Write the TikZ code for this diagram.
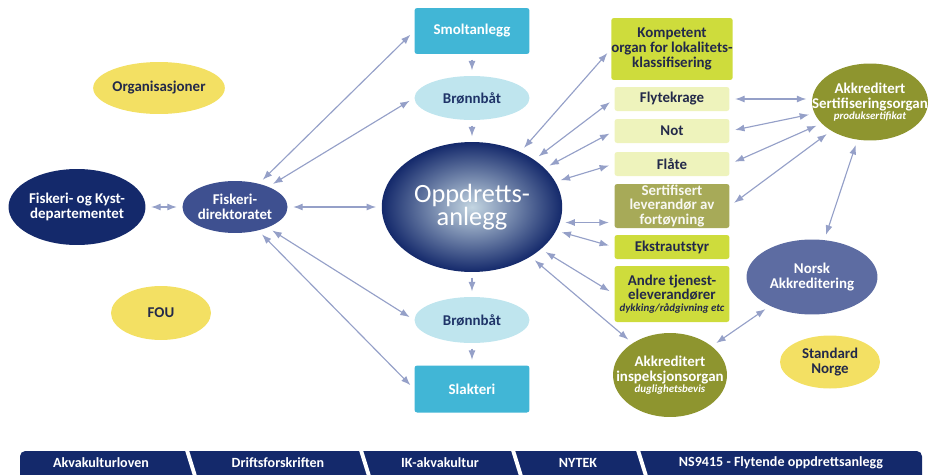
\documentclass[tikz,border=0pt]{standalone}
\usepackage{fontspec}
\setmainfont{Carlito}
\usepackage{xcolor}
\usetikzlibrary{shapes.geometric,arrows.meta}

\definecolor{navydark}{HTML}{14296B}
\definecolor{navymid}{HTML}{3E5090}
\definecolor{navylight}{HTML}{5D6CA2}
\definecolor{sunyellow}{HTML}{F3E063}
\definecolor{smoltblue}{HTML}{41B6D6}
\definecolor{paleblue}{HTML}{BFE5EE}
\definecolor{limegreen}{HTML}{CEDC3C}
\definecolor{palelime}{HTML}{EEF3BC}
\definecolor{olivelight}{HTML}{A7AA58}
\definecolor{olivedark}{HTML}{8E952F}
\definecolor{linkgray}{HTML}{95A0C8}
\definecolor{textdark}{HTML}{23294A}
\definecolor{textnavy}{HTML}{1F3468}
\definecolor{glow}{HTML}{C4D6E2}

\newcommand{\smallnote}{\fontsize{6.2}{6.4}\selectfont\bfseries\itshape}

\begin{document}
\begin{tikzpicture}[
        x=0.02cm, y=-0.02cm,
        lbl/.style={font=\fontsize{8.5}{8.3}\selectfont\bfseries, align=center, inner sep=0pt},
        blob/.style={ellipse, lbl},
        box/.style={rectangle, lbl, rounded corners=1.5pt, minimum width=2.3cm},
        link/.style={linkgray, line width=0.65pt,
            {Latex[length=0.19cm,width=0.14cm]}-{Latex[length=0.19cm,width=0.14cm]},
            shorten <=3pt, shorten >=3pt},
        flow/.style={linkgray, line width=0.65pt,
            -{Latex[length=0.19cm,width=0.14cm]}, shorten <=3pt, shorten >=3pt},
        lawlbl/.style={font=\fontsize{8}{8}\selectfont\bfseries, text=white, inner sep=0pt},
    ]
    \useasboundingbox (0,0) rectangle (934,474);

    \node[blob, fill=sunyellow, text=textdark, minimum width=1.96cm, minimum height=1.04cm] (orga) at (159,88) {Organisasjoner};
    \node[blob, fill=navydark, text=white, minimum width=2.74cm, minimum height=1.52cm] (fkd) at (77,207) {Fiskeri- og Kyst-\\departementet};
    \node[blob, fill=navymid, text=white, minimum width=2.0cm, minimum height=1.04cm] (fdir) at (235,207) {Fiskeri-\\direktoratet};
    \node[blob, fill=sunyellow, text=textdark, minimum width=2.0cm, minimum height=1.08cm] (fou) at (161,313) {FOU};

    \node[ellipse, inner color=glow, outer color=navydark, text=white, align=center,
        font=\fontsize{15}{13.5}\selectfont, minimum width=3.14cm, minimum height=2.6cm] (anlegg) at (472,207) {Oppdretts-\\anlegg};

    \node[box, fill=smoltblue, text=white, minimum height=0.92cm] (smolt) at (472,31) {Smoltanlegg};
    \node[blob, fill=paleblue, text=textnavy, minimum width=2.3cm, minimum height=0.88cm] (bbtop) at (472,98) {Brønnbåt};
    \node[blob, fill=paleblue, text=textnavy, minimum width=2.3cm, minimum height=0.92cm] (bbbot) at (472,320) {Brønnbåt};
    \node[box, fill=smoltblue, text=white, minimum height=0.94cm] (slakt) at (472,389) {Slakteri};

    \node[box, fill=limegreen, text=textdark, minimum height=1.24cm] (komp) at (672,49) {Kompetent\\organ for lokalitets-\\klassifisering};
    \node[box, fill=palelime, text=textdark, minimum height=0.48cm] (flyt) at (672,99) {Flytekrage};
    \node[box, fill=palelime, text=textdark, minimum height=0.48cm] (not) at (672,131) {Not};
    \node[box, fill=palelime, text=textdark, minimum height=0.48cm] (flate) at (672,164) {Flåte};
    \node[box, fill=olivelight, text=white!92!olivelight, minimum height=0.88cm] (sertlev) at (672,206) {Sertifisert\\leverandør av\\fortøyning};
    \node[box, fill=limegreen, text=textdark, minimum height=0.48cm] (ekstra) at (672,247) {Ekstrautstyr};
    \node[box, fill=limegreen, text=textdark, minimum height=1.12cm] (andre) at (672,294) {Andre tjenest-\\eleverandører\\[-1.5pt]{\smallnote dykking/rådgivning etc}};

    \node[blob, fill=olivedark, text=white, inner xsep=-0.32cm, minimum width=2.28cm, minimum height=1.68cm] (inspek) at (670,375) {Akkreditert\\inspeksjonsorgan\\[-2pt]{\smallnote duglighetsbevis}};
    \node[blob, fill=olivedark, text=white, inner xsep=-0.36cm, minimum width=2.32cm, minimum height=1.54cm] (sertorg) at (870,102) {Akkreditert\\Sertifiseringsorgan\\[-2pt]{\smallnote produksertifikat}};
    \node[blob, fill=navylight, text=white, minimum width=2.62cm, minimum height=1.5cm] (norsk) at (812,277) {Norsk\\Akkreditering};
    \node[blob, fill=sunyellow, text=textdark, minimum width=2.0cm, minimum height=1.06cm] (standard) at (830,362) {Standard\\Norge};

    \draw[link] (fkd) -- (fdir);
    \draw[link] (fdir) -- (anlegg);
    \draw[link] (fdir) -- (smolt.west);
    \draw[link] (fdir) -- (bbtop.west);
    \draw[link] (fdir) -- (bbbot.west);
    \draw[link] (fdir) -- (slakt.west);

    \draw[flow] (smolt) -- (bbtop);
    \draw[flow] (bbtop) -- (anlegg);
    \draw[flow] (anlegg) -- (bbbot);
    \draw[flow] (bbbot) -- (slakt);

    \draw[link] (anlegg) -- (komp.west);
    \draw[link] (anlegg) -- (flyt.west);
    \draw[link] (anlegg) -- (not.west);
    \draw[link] (anlegg) -- (flate.west);
    \draw[link] (anlegg.-10) -- (anlegg.-10 -| sertlev.west);
    \draw[link] (anlegg) -- (ekstra.west);
    \draw[link] (anlegg) -- (andre.west);
    \draw[link] (anlegg) -- (inspek);

    \draw[link] (flyt.east) -- (sertorg.west |- flyt.east);
    \draw[link] (not.east) -- (sertorg);
    \draw[link] (flate.east) -- (sertorg);
    \draw[link] (sertlev.east) -- (sertorg);
    \draw[link] (sertorg) -- (norsk);
    \draw[link] (norsk) -- (inspek);

    \begin{scope}
        \clip (0,440) rectangle (934,474);
        \fill[navydark, rounded corners=3pt] (20,451) rectangle (922,500);
        \foreach \sx in {186,360,512,637}
            \draw[white, line width=2.2pt] (\sx,447) -- (\sx+9,476) -- (\sx,505);
    \end{scope}
    \node[lawlbl] (law1) at (101,463) {Akvakulturloven};
    \node[lawlbl] (law2) at (278,463) {Driftsforskriften};
    \node[lawlbl] (law3) at (440,463) {IK-akvakultur};
    \node[lawlbl] (law4) at (578,463) {NYTEK};
    \node[lawlbl] (law5) at (781,463) {NS9415 - Flytende oppdrettsanlegg};
\end{tikzpicture}
\end{document}
